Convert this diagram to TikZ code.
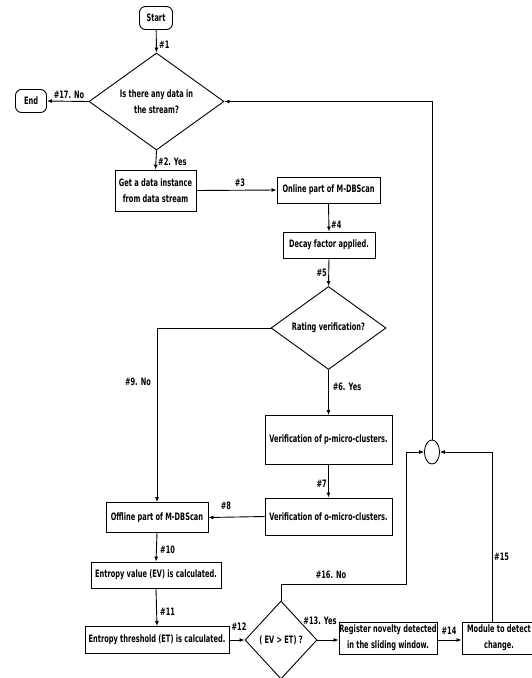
\documentclass[tikz,border=0pt]{standalone}
\usepackage{fontspec}
\setmainfont{DejaVu Sans}[FakeStretch=0.65]
\usetikzlibrary{shapes.geometric,arrows.meta}
\begin{document}
\begin{tikzpicture}[x=1pt,y=-1pt,
  every node/.style={font=\fontsize{10.2}{16}\selectfont\bfseries},
  box/.style={draw,line width=0.9pt,rectangle,inner sep=0pt,align=center},
  term/.style={draw,line width=0.9pt,rectangle,rounded corners=6pt,inner sep=0pt},
  dec/.style={draw,line width=0.9pt,diamond,inner sep=0pt,align=center},
  lbl/.style={inner sep=1pt},
  conn/.style={line width=0.9pt},
  arr/.style={line width=0.9pt,-{Latex[length=5pt,width=4pt]}}]
\useasboundingbox (0,0) rectangle (532,678);
\begin{scope}
\clip (0,0) rectangle (532,678);
% nodes
\node[term,minimum width=33,minimum height=23] (start) at (156,18) {Start};
\node[term,minimum width=31,minimum height=23] (end) at (31,101) {End};
\node[dec,minimum width=135,minimum height=91] (d1) at (156.5,101.5) {Is there any data in\\the stream?};
\node[box,minimum width=81,minimum height=41] (get) at (155.5,190.5) {Get a data instance\\from data stream};
\node[box,minimum width=103,minimum height=26] (online) at (328.5,190) {Online part of M-DBScan};
\node[box,minimum width=92,minimum height=26] (decay) at (329,245) {Decay factor applied.};
\node[dec,minimum width=115,minimum height=78] (d2) at (328.5,328) {Rating verification?};
\node[box,minimum width=127,minimum height=49] (verp) at (328.5,440) {Verification of p-micro-clusters.};
\node[box,minimum width=127,minimum height=37] (vero) at (328.5,516.5) {Verification of o-micro-clusters.};
\node[box,minimum width=102,minimum height=30] (offline) at (157,517.5) {Offline part of M-DBScan};
\node[box,minimum width=130,minimum height=26] (ev) at (156,575) {Entropy value (EV) is calculated.};
\node[box,minimum width=144,minimum height=27] (et) at (157,640) {Entropy threshold (ET) is calculated.};
\node[dec,minimum width=72,minimum height=78] (d3) at (281,640) {( EV > ET) ?};
\node[box,minimum width=98,minimum height=32] (reg) at (388,638) {Register novelty detected\\in the sliding window.};
\node[box,minimum width=74,minimum height=32] (mod) at (499,638) {Module to detect\\change.};
\node[draw,line width=0.9pt,ellipse,inner sep=0pt,minimum width=15,minimum height=24] (junc) at (432,452) {};
\coordinate (c1) at (406,584);
\coordinate (m1) at (492,452);
% connectors
\draw[arr] (start) -- (d1.north);
\draw[arr] (d1.west) -- (end.east);
\draw[arr] (d1.south) -- (get.north);
\draw[arr] (get.east) -- (online.west);
\draw[arr] (online.south) -- (decay.north);
\draw[arr] (decay.south) -- (d2.north);
\draw[arr] (d2.west) -| (offline.north);
\draw[arr] (d2.south) -- (verp.north);
\draw[arr] (verp.south) -- (vero.north);
\draw[arr] (vero.west) -- (offline.east);
\draw[arr] (offline.south) -- (ev.north);
\draw[arr] (ev.south) -- (et.north);
\draw[arr] (et.east) -- (d3.west);
\draw[arr] (d3.east) -- (d3.east -| reg.west);
\draw[arr] (d3.east -| reg.east) -- (d3.east -| mod.west);
\draw[arr] (d3.north) |- (c1) |- (junc.west);
\draw[arr] (mod.north -| m1) -- (m1) -- (junc.east);
\draw[arr] (junc.north) |- (d1.east);
% labels
\node[lbl,anchor=west] (l1) at (158,45) {\#1};
\node[lbl] (l17) at (69,95) {\#17. No};
\node[lbl,anchor=west] (l2) at (157,162) {\#2. Yes};
\node[lbl] (l3) at (240,183) {\#3};
\node[lbl,anchor=west] (l4) at (330,225) {\#4};
\node[lbl,anchor=east] (l5) at (328,273) {\#5};
\node[lbl] (l9) at (138,382) {\#9. No};
\node[lbl] (l6) at (347,387) {\#6. Yes};
\node[lbl,anchor=east] (l7) at (328,484) {\#7};
\node[lbl] (l8) at (226,506) {\#8};
\node[lbl,anchor=west] (l10) at (159,550) {\#10};
\node[lbl,anchor=west] (l11) at (159,612) {\#11};
\node[lbl] (l12) at (239,627) {\#12};
\node[lbl] (l13) at (320,621) {\#13. Yes};
\node[lbl] (l14) at (449,631) {\#14};
\node[lbl] (l16) at (331,575) {\#16. No};
\node[lbl,anchor=west] (l15) at (493,557) {\#15};
\end{scope}
\end{tikzpicture}
\end{document}
